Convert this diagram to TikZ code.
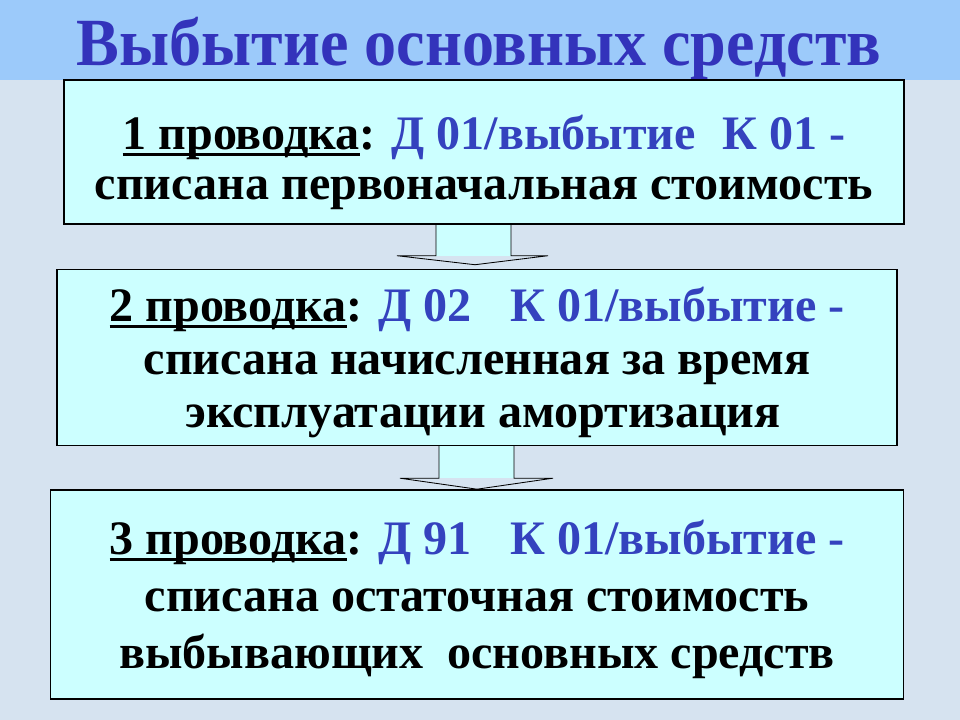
\documentclass[tikz,border=0pt]{standalone}
\usepackage{fontspec}
\setmainfont{Liberation Serif}
\newfontfamily\titlefont[FakeStretch=0.95]{Liberation Serif}
\usepackage{xcolor}
\usetikzlibrary{calc,positioning}
\definecolor{titleblue}{RGB}{51,51,187}
\definecolor{accblue}{RGB}{52,66,190}
\definecolor{boxcyan}{RGB}{204,255,255}
\definecolor{bandblue}{RGB}{156,202,250}
\definecolor{frost}{RGB}{214,227,240}
\tikzset{
        entry/.style = {draw, rectangle, fill=boxcyan, line width=1pt,
            align=center, inner sep=0pt,
            font=\bfseries\fontsize{34.2}{37.5}\selectfont},
        blockarrow/.style = {draw, line width=0.6pt, line join=miter},
        heading/.style = {anchor=base, text=titleblue,
            font=\titlefont\bfseries\fontsize{48}{50}\selectfont},
    }
\newcommand{\acc}[1]{\textcolor{accblue}{#1}}
\newcommand{\uline}[1]{\setbox0\hbox{#1}\rlap{\rule[-4.2pt]{\wd0}{1.7pt}}\box0}
\newcommand{\topgap}[1]{\rule{0pt}{#1em}}

\begin{document}
\begin{tikzpicture}[x=0.025cm,y=-0.025cm]
    \useasboundingbox (0,0) rectangle (960,720);
    \fill[frost] (0,0) rectangle (960,720);
    \fill[bandblue] (0,0) rectangle (960,80);

    \node[heading] (ttl) at (479,66) {Выбытие основных средств};

    % the three postings
    \node[entry, minimum width=21cm, minimum height=3.6cm,
          font=\bfseries\fontsize{34.2}{35.6}\selectfont] (p1) at (484,152)
        {\topgap{1.16}\uline{1 проводка}: \acc{Д 01/выбытие\hspace{0.55em}К 01 -}\\
         списана первоначальная стоимость};
    \node[entry, minimum width=21cm, minimum height=4.4cm,
          below=1.1cm of p1, xshift=-0.175cm] (p2)
        {\topgap{0.93}\uline{2 проводка}: \acc{Д 02\hspace{0.8em}К 01/выбытие -}\\
         списана начисленная за время\\
         \ эксплуатации амортизация};
    \node[entry, minimum width=21.325cm, minimum height=5.225cm,
          below=1.075cm of p2, font=\bfseries\fontsize{34.2}{40.5}\selectfont] (p3)
        {\topgap{0.93}\uline{3 проводка}: \acc{Д 91\hspace{0.8em}К 01/выбытие -}\\
         списана остаточная стоимость\\
         выбывающих\ \ основных средств};

    % block arrows between the boxes (only the stem is tinted)
    \fill[boxcyan] ($(p1.south)+(-48,0)$) rectangle ($(p1.south)+(27,31)$);
    \draw[blockarrow] ($(p1.south)+(-48,0)$) -- ++(0,31) -- ++(-39,0)
        -- ($(p2.north)+(-2,-4)$) -- ($(p1.south)+(64,31)$)
        -- ++(-37,0) -- ($(p1.south)+(27,0)$);
    \fill[boxcyan] ($(p2.south)+(-38,0)$) rectangle ($(p2.south)+(37,32)$);
    \draw[blockarrow] ($(p2.south)+(-38,0)$) -- ++(0,32) -- ++(-39,0)
        -- (p3.north) -- ($(p2.south)+(76,32)$)
        -- ++(-39,0) -- ($(p2.south)+(37,0)$);
\end{tikzpicture}
\end{document}
